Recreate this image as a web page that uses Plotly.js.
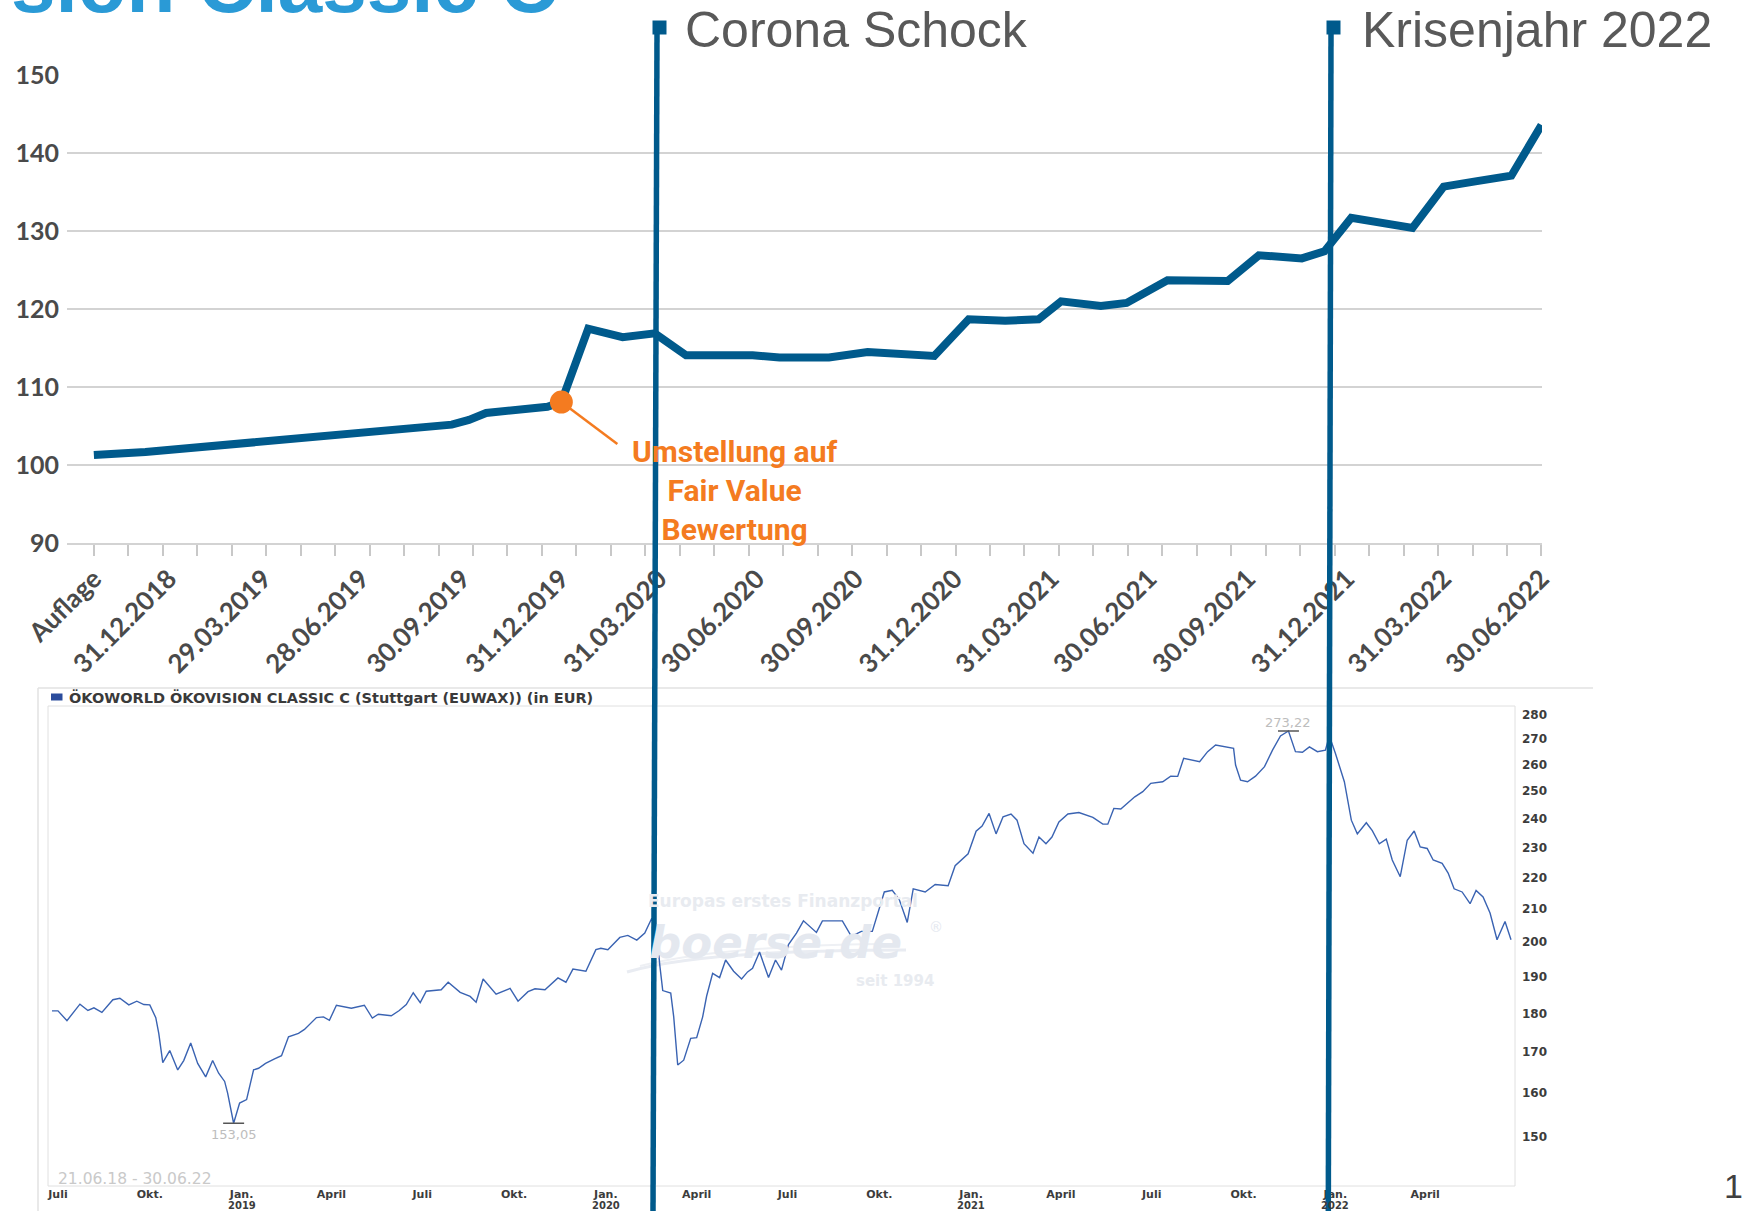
<!DOCTYPE html>
<html>
<head>
<meta charset="utf-8">
<script src="https://cdn.plot.ly/plotly-3.0.1.min.js"></script>
<style>
  html, body { margin: 0; padding: 0; background: #ffffff; }
  #chart { width: 1746px; height: 1211px; }
</style>
</head>
<body>
<div id="chart"></div>
<script>
// ---------------- DATA ----------------
// Top chart: fund value (index, Auflage = 100)
const topDates = ['2018-10-22','2018-12-09','2019-09-20','2019-10-06','2019-10-22','2019-12-18','2019-12-31',
  '2020-01-25','2020-02-26','2020-03-27','2020-04-25','2020-06-26','2020-07-21','2020-09-05','2020-10-11',
  '2020-12-12','2021-01-13','2021-02-16','2021-03-19','2021-04-09','2021-05-16','2021-06-09','2021-07-17',
  '2021-09-11','2021-10-10','2021-11-19','2021-12-10','2022-01-04','2022-03-02','2022-03-31','2022-05-01',
  '2022-06-02','2022-06-30'];
const topValues = [101.3,101.7,105.2,105.8,106.7,107.5,108.1,
  117.5,116.4,116.9,114.1,114.1,113.8,113.8,114.5,
  114.0,118.7,118.5,118.7,121.0,120.4,120.8,123.7,
  123.6,126.9,126.5,127.4,131.7,130.4,135.7,136.4,
  137.1,143.6];
const topTickLabels = ['Auflage','31.12.2018','29.03.2019','28.06.2019','30.09.2019','31.12.2019','31.03.2020',
  '30.06.2020','30.09.2020','31.12.2020','31.03.2021','30.06.2021','30.09.2021','31.12.2021','31.03.2022','30.06.2022'];
const topYTicks = [90,100,110,120,130,140,150];
const fairValueDate = '2019-12-31';
const fairValueText = 'Umstellung auf<br>Fair Value<br>Bewertung';

// Bottom chart: ÖKOWORLD ÖKOVISION CLASSIC C (EUR, Stuttgart)
const stockDates = ['2018-06-25','2018-07-01','2018-07-10','2018-07-23','2018-07-31','2018-08-06','2018-08-14','2018-08-25',
  '2018-09-01','2018-09-10','2018-09-18','2018-09-25','2018-10-01','2018-10-07','2018-10-10','2018-10-14','2018-10-21',
  '2018-10-29','2018-11-04','2018-11-11','2018-11-18','2018-11-26','2018-12-03','2018-12-09','2018-12-15','2018-12-18',
  '2018-12-24','2018-12-30','2019-01-06','2019-01-13','2019-01-18','2019-01-25','2019-02-03','2019-02-10','2019-02-17',
  '2019-02-27','2019-03-05','2019-03-17','2019-03-24','2019-03-30','2019-04-06','2019-04-21','2019-05-04','2019-05-12',
  '2019-05-18','2019-05-31','2019-06-08','2019-06-15','2019-06-22','2019-06-29','2019-07-05','2019-07-20','2019-07-27',
  '2019-08-08','2019-08-18','2019-08-24','2019-08-31','2019-09-13','2019-09-27','2019-10-05','2019-10-15','2019-10-22',
  '2019-11-01','2019-11-07','2019-11-14','2019-11-22','2019-11-29','2019-12-12','2019-12-22','2019-12-27','2020-01-03',
  '2020-01-15','2020-01-23','2020-02-01','2020-02-09','2020-02-16','2020-02-21','2020-02-24','2020-02-27','2020-03-06',
  '2020-03-09','2020-03-13','2020-03-19','2020-03-26','2020-04-01','2020-04-07','2020-04-11','2020-04-17','2020-04-24',
  '2020-04-30','2020-05-08','2020-05-16','2020-05-22','2020-05-27','2020-06-03','2020-06-12','2020-06-19','2020-06-25',
  '2020-07-02','2020-07-10','2020-07-17','2020-07-30','2020-08-05','2020-08-25','2020-09-03','2020-09-13','2020-09-24',
  '2020-10-06','2020-10-14','2020-10-21','2020-10-29','2020-11-04','2020-11-16','2020-11-26','2020-12-09','2020-12-16',
  '2020-12-29','2021-01-06','2021-01-12','2021-01-19','2021-01-26','2021-02-02','2021-02-10','2021-02-16','2021-02-23',
  '2021-03-04','2021-03-10','2021-03-17','2021-03-23','2021-03-30','2021-04-08','2021-04-19','2021-05-03','2021-05-13',
  '2021-05-18','2021-05-24','2021-05-31','2021-06-14','2021-06-22','2021-06-30','2021-07-12','2021-07-20','2021-07-27',
  '2021-08-02','2021-08-18','2021-08-26','2021-09-03','2021-09-21','2021-09-23','2021-09-28','2021-10-05','2021-10-13',
  '2021-10-22','2021-10-30','2021-11-07','2021-11-15','2021-11-22','2021-11-29','2021-12-06','2021-12-14','2021-12-22',
  '2021-12-26','2022-01-01','2022-01-10','2022-01-17','2022-01-23','2022-02-01','2022-02-07','2022-02-14','2022-02-21',
  '2022-02-27','2022-03-07','2022-03-14','2022-03-21','2022-03-27','2022-04-03','2022-04-09','2022-04-18','2022-04-24',
  '2022-04-30','2022-05-08','2022-05-16','2022-05-22','2022-05-29','2022-06-05','2022-06-12','2022-06-20','2022-06-26'];
const stockValues = [180.7,180.7,178.1,182.5,180.8,181.5,180.3,183.7,
  184.1,182.3,183.3,182.4,182.3,178.9,174.8,167.4,170.4,
  165.6,167.9,172.3,167.2,163.9,167.9,164.8,162.8,160.0,
  153.05,157.7,158.5,165.6,166.0,167.2,168.3,169.1,173.9,
  174.8,175.8,178.9,179.1,178.2,182.2,181.4,182.2,178.8,
  179.8,179.4,180.8,182.4,185.6,182.9,186.0,186.4,188.5,
  185.7,184.6,183.0,189.4,185.2,186.8,183.3,185.9,186.7,
  186.4,188.0,189.7,188.5,192.2,191.6,197.8,198.2,197.8,
  201.4,202.0,200.6,202.7,207.2,203.2,193.4,186.2,185.5,
  179.1,166.8,168.0,173.5,173.7,179.1,184.7,191.0,189.8,
  194.8,191.6,189.4,191.4,192.4,197.1,189.8,194.8,191.9,
  199.3,202.7,206.4,202.9,206.4,206.4,201.7,203.2,203.2,
  215.4,215.9,213.0,205.9,216.4,215.4,217.8,217.4,223.9,
  227.9,235.6,237.4,241.9,234.7,240.7,241.7,239.5,231.3,
  228.1,233.6,231.3,233.6,238.9,241.7,242.2,240.5,238.1,
  238.1,243.7,243.5,247.9,249.8,252.9,253.5,255.6,255.5,
  262.4,261.1,265.0,267.6,266.3,259.8,254.1,253.5,255.6,
  259.2,265.6,271.2,273.22,265.0,264.8,266.9,265.0,265.6,
  271.2,264.4,253.5,239.5,234.7,238.6,235.8,231.3,232.9,
  225.8,220.3,232.5,235.7,230.2,229.7,225.8,224.7,221.5,
  216.4,215.4,211.7,215.9,213.8,208.8,200.7,206.2,200.7];
const stockTickDates = ['2018-07-01','2018-10-01','2019-01-01','2019-04-01','2019-07-01','2019-10-01','2020-01-01','2020-04-01',
  '2020-07-01','2020-10-01','2021-01-01','2021-04-01','2021-07-01','2021-10-01','2022-01-01','2022-04-01'];
const stockTickLabels = ['Juli','Okt.','Jan.','April','Juli','Okt.','Jan.','April',
  'Juli','Okt.','Jan.','April','Juli','Okt.','Jan.','April'];
const stockYTicks = [150,160,170,180,190,200,210,220,230,240,250,260,270,280];
const stockTitle = 'ÖKOWORLD ÖKOVISION CLASSIC C (Stuttgart (EUWAX)) (in EUR)';
const stockPeriod = '21.06.18 - 30.06.22';
const stockRange = ['2018-06-21','2022-06-30'];

const headline = 'sion Classic C';
const marker1Text = 'Corona Schock';
const marker2Text = 'Krisenjahr 2022';
const pageNumber = '1';

// ---------------- STYLE / LAYOUT HELPERS ----------------
const W = 1746, H = 1211;
const px = x => x / W;
const py = y => 1 - y / H;
const TICK_COUNT = 43;
const darkBlue = '#005A8C';
const orange = '#F47B20';
const gridGray = '#d3d3d3';
const yLabelFont = {family: 'Lato, "Noto Sans", sans-serif', size: 25, color: '#4a4a4a', weight: 'bold'};
const xLabelFont = {family: 'Lato, "Noto Sans", sans-serif', size: 26, color: '#4a4a4a', weight: 'bold'};
const smallFont = {family: '"DejaVu Sans", sans-serif', size: 12, color: '#3c3c3c', weight: 'bold'};

// derived from data
const labelDates = topTickLabels.map(l => l === 'Auflage' ? topDates[0] : l.split('.').reverse().join('-'));
const t0 = Date.parse(topDates[0]);
const t1 = Date.parse(topDates[topDates.length - 1]);
const minorTicks = [];
for (let k = 0; k < TICK_COUNT; k++) minorTicks.push(t0 + k * (t1 - t0) / (TICK_COUNT - 1));
const fvIdx = topDates.indexOf(fairValueDate);
const fvVal = topValues[fvIdx];

let minI = 0, maxI = 0;
stockValues.forEach((v, i) => { if (v < stockValues[minI]) minI = i; if (v > stockValues[maxI]) maxI = i; });
const fmt = v => v.toFixed(2).replace('.', ',');

// year captions under the "Jan." ticks
const yearAnnotations = stockTickDates
  .map((d, i) => ({d, lab: stockTickLabels[i]}))
  .filter(o => o.lab === 'Jan.')
  .map(o => ({xref: 'x2', yref: 'paper', x: o.d, y: py(1205.2), xanchor: 'center', yanchor: 'middle',
              text: o.d.slice(0, 4), showarrow: false,
              font: {family: '"DejaVu Sans", sans-serif', size: 10, color: '#3c3c3c', weight: 'bold'}}));

// ---------------- TRACES ----------------
const traces = [
  {type: 'scatter', mode: 'lines', x: topDates, y: topValues, xaxis: 'x', yaxis: 'y',
   line: {color: darkBlue, width: 8}, hoverinfo: 'skip', cliponaxis: false},
  {type: 'scatter', mode: 'markers', x: [fairValueDate], y: [fvVal], xaxis: 'x', yaxis: 'y',
   marker: {size: 23, color: orange}, hoverinfo: 'skip', cliponaxis: false},
  {type: 'scatter', mode: 'lines', x: stockDates, y: stockValues, xaxis: 'x2', yaxis: 'y2',
   line: {color: '#3a63b2', width: 1.4}, hoverinfo: 'skip'},
  {type: 'scatter', mode: 'markers', x: [stockDates[minI], stockDates[maxI]], y: [stockValues[minI], stockValues[maxI]],
   xaxis: 'x2', yaxis: 'y2', marker: {symbol: 'line-ew', size: 15, line: {color: '#555555', width: 1.5}},
   hoverinfo: 'skip', cliponaxis: false}
];

// ---------------- LAYOUT ----------------
const layout = {
  width: W, height: H,
  margin: {l: 0, r: 0, t: 0, b: 0, pad: 0},
  paper_bgcolor: '#ffffff', plot_bgcolor: 'rgba(0,0,0,0)',
  showlegend: false,
  font: {family: '"Liberation Sans", Arial, sans-serif'},
  xaxis: {
    type: 'date', domain: [px(67), px(1542)], range: ['2018-09-27', '2022-06-30 12:00'], anchor: 'y',
    tickmode: 'array', tickvals: labelDates, ticktext: topTickLabels, tickangle: -45,
    ticks: '', ticklabelstandoff: 8, tickfont: xLabelFont,
    showgrid: false, zeroline: false, showline: true, linecolor: gridGray, linewidth: 2,
    minor: {tickmode: 'array', tickvals: minorTicks, ticks: 'outside', ticklen: 11, tickwidth: 2,
            tickcolor: '#c8c8c8', showgrid: false},
    fixedrange: true
  },
  yaxis: {
    domain: [py(543.3), py(75)], range: [90, 150], anchor: 'x',
    tickmode: 'array', tickvals: topYTicks, ticks: '', ticklabelstandoff: 7, tickfont: yLabelFont,
    showgrid: true, gridcolor: gridGray, gridwidth: 2, zeroline: false, showline: false, fixedrange: true
  },
  xaxis2: {
    type: 'date', domain: [px(48), px(1515)], range: stockRange, anchor: 'y2',
    tickmode: 'array', tickvals: stockTickDates, ticktext: stockTickLabels, tickangle: 0,
    ticks: '', ticklabelstandoff: 0, tickfont: {family: smallFont.family, size: 11, color: '#3c3c3c', weight: 'bold'},
    showgrid: false, zeroline: false, showline: false, fixedrange: true
  },
  yaxis2: {
    type: 'log', domain: [py(1186), py(706)], range: [Math.log10(139.5), Math.log10(283.5)], anchor: 'x2', side: 'right',
    tickmode: 'array', tickvals: stockYTicks, ticktext: stockYTicks.map(String), ticks: '',
    ticklabelstandoff: 6, tickfont: smallFont,
    showgrid: false, zeroline: false, showline: false, fixedrange: true
  },
  shapes: [
    // bottom chart outer frame (top + left)
    {type: 'line', xref: 'paper', yref: 'paper', x0: px(38), x1: px(1593), y0: py(688), y1: py(688),
     line: {color: '#e2e2e2', width: 1.5}, layer: 'below'},
    {type: 'line', xref: 'paper', yref: 'paper', x0: px(38), x1: px(38), y0: py(688), y1: py(1215),
     line: {color: '#e2e2e2', width: 1.5}, layer: 'below'},
    // bottom plot frame
    {type: 'rect', xref: 'paper', yref: 'paper', x0: px(48), x1: px(1515), y0: py(1186), y1: py(706),
     line: {color: '#e0e0e0', width: 1}, layer: 'below'},
    // legend square
    {type: 'rect', xref: 'paper', yref: 'paper', x0: px(51), x1: px(62.5), y0: py(700.5), y1: py(693.5),
     fillcolor: '#2b4c9c', line: {width: 0}},
    // watermark swoosh
    {type: 'path', xref: 'paper', yref: 'paper',
     path: `M ${px(627)} ${py(972)} Q ${px(700)} ${py(950)} ${px(906)} ${py(950)}`,
     line: {color: '#e9ecf2', width: 3}, layer: 'below'},
    {type: 'path', xref: 'paper', yref: 'paper',
     path: `M ${px(640)} ${py(966)} Q ${px(720)} ${py(946)} ${px(880)} ${py(944)}`,
     line: {color: '#eef0f4', width: 2}, layer: 'below'},
    // connector fair value
    {type: 'line', xref: 'x', yref: 'y', xsizemode: 'pixel', ysizemode: 'pixel',
     xanchor: fairValueDate, yanchor: fvVal, x0: 0, y0: 0, x1: 56, y1: -42,
     line: {color: orange, width: 2.5}, layer: 'below'},
    // Corona Schock marker line + square
    {type: 'line', xref: 'paper', yref: 'paper', x0: px(657), y0: py(33), x1: px(653), y1: py(1215),
     line: {color: darkBlue, width: 5.5}},
    {type: 'rect', xref: 'paper', yref: 'paper', x0: px(652.5), x1: px(666.5), y0: py(34.5), y1: py(20.5),
     fillcolor: darkBlue, line: {width: 0}},
    // Krisenjahr marker line + square
    {type: 'line', xref: 'paper', yref: 'paper', x0: px(1331), y0: py(33), x1: px(1328.3), y1: py(1215),
     line: {color: darkBlue, width: 5.5}},
    {type: 'rect', xref: 'paper', yref: 'paper', x0: px(1326.5), x1: px(1340.5), y0: py(34.5), y1: py(20.5),
     fillcolor: darkBlue, line: {width: 0}}
  ],
  annotations: [
    {xref: 'paper', yref: 'paper', x: px(560), y: py(13.3 - 0.358 * 80), xanchor: 'right', yanchor: 'middle',
     text: headline, showarrow: false,
     font: {family: '"Liberation Sans", Arial, sans-serif', size: 80, color: '#2A9AD6', weight: 'bold'}},
    {xref: 'paper', yref: 'paper', x: px(683), y: py(30.4), xanchor: 'left', yanchor: 'middle',
     text: marker1Text, showarrow: false,
     font: {family: '"Liberation Sans", Arial, sans-serif', size: 50, color: '#595959'}},
    {xref: 'paper', yref: 'paper', x: px(1359.5), y: py(30.4), xanchor: 'left', yanchor: 'middle',
     text: marker2Text, showarrow: false,
     font: {family: '"Liberation Sans", Arial, sans-serif', size: 50, color: '#595959'}},
    {xref: 'paper', yref: 'paper', x: px(734.5), y: py(490.5), xanchor: 'center', yanchor: 'middle', align: 'center',
     text: fairValueText, showarrow: false,
     font: {family: 'Roboto, sans-serif', size: 30, color: orange, weight: 'bold'}},
    {xref: 'paper', yref: 'paper', x: px(67), y: py(697), xanchor: 'left', yanchor: 'middle',
     text: stockTitle, showarrow: false,
     font: {family: '"DejaVu Sans", sans-serif', size: 14.5, color: '#3a3a3a', weight: 'bold'}},
    {xref: 'paper', yref: 'paper', x: px(56), y: py(1179), xanchor: 'left', yanchor: 'middle',
     text: stockPeriod, showarrow: false,
     font: {family: '"DejaVu Sans", sans-serif', size: 15.5, color: '#c9c9c9'}},
    {xref: 'x2', yref: 'y2', x: stockDates[minI], y: Math.log10(stockValues[minI]), yshift: -11,
     xanchor: 'center', yanchor: 'middle', text: fmt(stockValues[minI]), showarrow: false,
     font: {family: '"DejaVu Sans", sans-serif', size: 13, color: '#bdbdbd'}},
    {xref: 'x2', yref: 'y2', x: stockDates[maxI], y: Math.log10(stockValues[maxI]), yshift: 9,
     xanchor: 'center', yanchor: 'middle', text: fmt(stockValues[maxI]), showarrow: false,
     font: {family: '"DejaVu Sans", sans-serif', size: 13, color: '#bdbdbd'}},
    // watermark
    {xref: 'paper', yref: 'paper', x: px(783), y: py(901), xanchor: 'center', yanchor: 'middle',
     text: 'Europas erstes Finanzportal', showarrow: false,
     font: {family: '"DejaVu Sans", sans-serif', size: 17, color: '#e8ebf0', weight: 'bold'}},
    {xref: 'paper', yref: 'paper', x: px(775), y: py(942), xanchor: 'center', yanchor: 'middle',
     text: 'boerse.de', showarrow: false,
     font: {family: '"DejaVu Sans", sans-serif', size: 45, color: '#e4e8ef', weight: 'bold', style: 'italic'}},
    {xref: 'paper', yref: 'paper', x: px(936), y: py(927), xanchor: 'center', yanchor: 'middle',
     text: '®', showarrow: false,
     font: {family: '"DejaVu Sans", sans-serif', size: 14, color: '#e4e8ef'}},
    {xref: 'paper', yref: 'paper', x: px(895), y: py(981), xanchor: 'center', yanchor: 'middle',
     text: 'seit 1994', showarrow: false,
     font: {family: '"DejaVu Sans", sans-serif', size: 15, color: '#e8ebf0', weight: 'bold'}},
    // page number
    {xref: 'paper', yref: 'paper', x: px(1722), y: py(1186), xanchor: 'left', yanchor: 'middle',
     text: pageNumber, showarrow: false,
     font: {family: '"Liberation Sans", Arial, sans-serif', size: 34, color: '#404040'}}
  ].concat(yearAnnotations)
};

Plotly.newPlot('chart', traces, layout, {staticPlot: true, displayModeBar: false});
</script>
</body>
</html>
